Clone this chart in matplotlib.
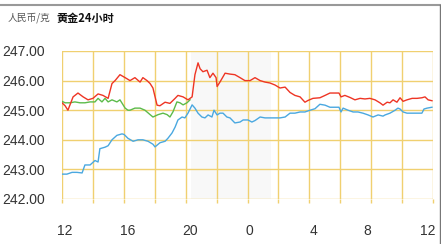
import matplotlib
matplotlib.use("Agg")
import matplotlib.pyplot as plt
from matplotlib.lines import Line2D
from matplotlib.transforms import ScaledTranslation

# minutes since 12:00
red_t = [0, 12, 23, 43, 62, 82, 101, 120, 140, 159, 179, 194, 206, 225, 245, 264, 283, 303, 314, 330,
         342, 353, 369, 380, 400, 419, 439, 450, 470, 489, 497, 505, 516, 528, 536, 547, 563, 574, 586, 598,
         602, 613, 633, 652, 671, 691, 710, 730, 749, 769, 788, 807, 827, 846, 866, 885, 904, 924, 943, 955,
         974, 1001, 1021, 1040, 1060, 1075, 1083, 1098, 1118, 1137, 1157, 1176, 1195, 1215, 1234, 1246, 1262,
         1273, 1285, 1300, 1312, 1324, 1339, 1359, 1378, 1397, 1409, 1421, 1436]
red_v = [245.25, 245.15, 245.0, 245.45, 245.58, 245.45, 245.35, 245.4, 245.55, 245.5, 245.4, 245.9, 246.0,
         246.2, 246.1, 246.0, 246.1, 245.95, 246.1, 246.0, 245.9, 245.75, 245.17, 245.15, 245.27, 245.23,
         245.4, 245.5, 245.45, 245.35, 245.4, 245.45, 246.2, 246.6, 246.4, 246.3, 246.35, 246.1, 246.25,
         246.1, 245.8, 245.95, 246.25, 246.22, 246.2, 246.1, 246.0, 246.0, 246.1, 246.0, 245.95, 245.92,
         245.85, 245.75, 245.78, 245.6, 245.5, 245.45, 245.27, 245.33, 245.4, 245.42, 245.5, 245.58, 245.58,
         245.58, 245.45, 245.5, 245.43, 245.35, 245.4, 245.38, 245.4, 245.35, 245.25, 245.17, 245.27, 245.25,
         245.35, 245.27, 245.42, 245.3, 245.35, 245.4, 245.4, 245.42, 245.45, 245.35, 245.32]

green_t = [0, 12, 31, 50, 70, 89, 109, 128, 140, 155, 167, 179, 194, 213, 225, 245, 256, 264, 283, 303,
           322, 342, 353, 373, 392, 408, 419, 431, 446, 458, 470, 485, 497]
green_v = [245.3, 245.25, 245.25, 245.28, 245.25, 245.25, 245.28, 245.28, 245.4, 245.28, 245.4, 245.28,
           245.35, 245.28, 245.35, 245.07, 245.0, 245.0, 245.07, 245.07, 245.0, 244.85, 244.77, 244.85,
           244.9, 244.85, 244.77, 244.95, 245.28, 245.25, 245.18, 245.25, 245.35]

blue_t = [0, 19, 39, 58, 78, 89, 109, 128, 140, 147, 167, 179, 194, 213, 233, 241, 256, 276, 295, 314,
          334, 353, 361, 380, 400, 411, 427, 439, 450, 466, 477, 489, 505, 516, 528, 543, 555, 567, 582, 590,
          602, 613, 625, 640, 652, 671, 691, 703, 722, 737, 749, 769, 788, 807, 827, 846, 866, 885, 904, 924,
          943, 963, 982, 1001, 1021, 1040, 1060, 1075, 1083, 1091, 1110, 1130, 1149, 1168, 1188, 1207, 1227,
          1246, 1254, 1273, 1293, 1304, 1312, 1324, 1339, 1359, 1378, 1397, 1405, 1417, 1436]
blue_v = [242.84, 242.84, 242.9, 242.9, 242.88, 243.15, 243.15, 243.3, 243.25, 243.7, 243.75, 243.8, 244.0,
          244.15, 244.2, 244.18, 244.05, 243.95, 244.0, 244.0, 243.95, 243.85, 243.76, 243.9, 243.95, 244.05,
          244.23, 244.43, 244.67, 244.77, 244.74, 244.9, 245.18, 245.07, 244.9, 244.77, 244.74, 244.84,
          244.77, 245.0, 244.84, 244.9, 244.9, 244.77, 244.74, 244.57, 244.6, 244.67, 244.67, 244.6, 244.65,
          244.77, 244.74, 244.74, 244.74, 244.74, 244.77, 244.9, 244.9, 244.94, 244.94, 245.0, 245.05, 245.2,
          245.17, 245.1, 245.1, 245.1, 244.94, 245.07, 245.0, 244.94, 244.94, 244.9, 244.84, 244.77, 244.84,
          244.8, 244.84, 244.9, 245.0, 245.07, 245.04, 244.94, 244.9, 244.9, 244.9, 244.9, 245.04, 245.07,
          245.1]

x_ticks = [0, 240, 480, 720, 960, 1200, 1440]
x_labels = ["12", "16", "20", "0", "4", "8", "12"]
y_ticks = [242, 243, 244, 245, 246, 247]
y_labels = ["242.00", "243.00", "244.00", "245.00", "246.00", "247.00"]
shade = (500, 810)

plt.rcParams['font.family'] = ['Liberation Sans', 'DejaVu Sans']
fig = plt.figure(figsize=(4.41, 2.44), dpi=100)
ax = fig.add_axes([62/441, 1-199/244, 371/441, 148/244])

grid_c = '#f0d070'
ax.axvspan(*shade, color='#f8f8f8', lw=0, zorder=0)
for gx in range(0, 1441, 120):
    ax.axvline(gx, color=grid_c, lw=1.0, zorder=1)
for gy in y_ticks:
    ax.axhline(gy, color=grid_c, lw=1.0, zorder=1)

ax.plot(blue_t, blue_v, color='#4aa8e0', lw=1.0, zorder=3)
ax.plot(green_t, green_v, color='#5cbb4a', lw=1.0, zorder=4)
ax.plot(red_t, red_v, color='#ee3524', lw=1.0, zorder=5)

ax.set_xlim(0, 1440)
ax.set_ylim(242, 247)
for s in ax.spines.values():
    s.set_visible(False)
ax.set_xticks(range(0, 1441, 120))
ax.tick_params(axis='x', length=3, color=grid_c, width=1.0, labelbottom=False)
ax.set_yticks(y_ticks)
ax.set_yticklabels(y_labels)
ax.tick_params(axis='y', length=0, pad=12, labelsize=10, labelcolor='#333333')

# x labels with small pixel offsets as in the reference
offsets_px = [2.5, 3.5, 4.5, 1.5, 4, -3.5, -5.5]
for t, lab, off in zip(x_ticks, x_labels, offsets_px):
    tr = ax.get_xaxis_transform() + ScaledTranslation(off / 100, 0, fig.dpi_scale_trans)
    ax.text(t, -0.215, lab, transform=tr, ha='center', va='center', fontsize=10, color='#333333')

fig.text(8/441, 1-18/244, "人民币/克", fontsize=7, color='#555555', va='center',
         family=['Noto Sans CJK SC', 'DejaVu Sans'])
fig.text(56/441, 1-18/244, "黄金24小时", fontsize=8, color='#111111', va='center', fontweight='bold',
         family=['Noto Sans CJK SC', 'DejaVu Sans'])

fig.add_artist(Line2D([0, 440/441], [1-5/244, 1-5/244], color='#999999', lw=1.5, transform=fig.transFigure))
fig.add_artist(Line2D([439.5/441, 439.5/441], [0, 1-5/244], color='#777777', lw=1.0, transform=fig.transFigure))

fig.savefig("out.png", dpi=100)
